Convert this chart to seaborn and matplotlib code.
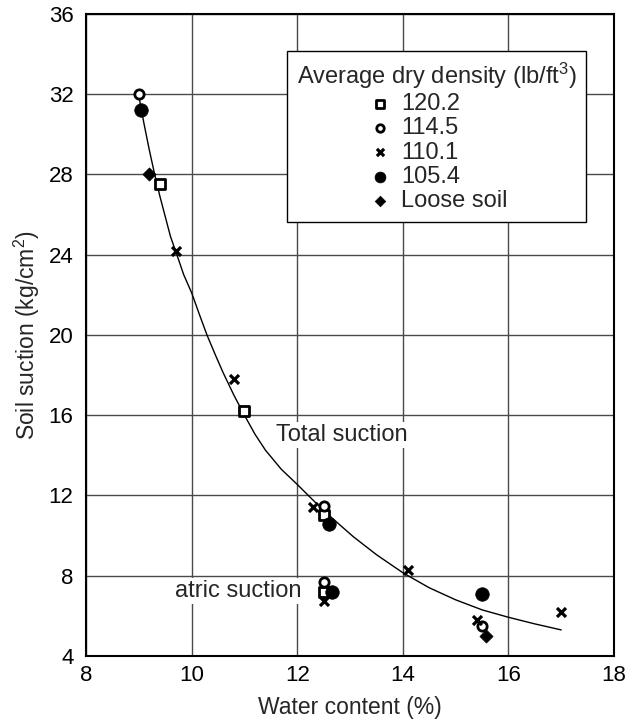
import matplotlib
matplotlib.use("Agg")
import matplotlib.pyplot as plt
import seaborn as sns

# ---- data ----
s120_x = [9.4, 11.0, 12.5, 12.5]
s120_y = [27.5, 16.2, 11.0, 7.2]

s114_x = [9.0, 12.5, 12.5, 15.5]
s114_y = [32.0, 11.45, 7.7, 5.5]

s110_x = [9.7, 10.8, 12.3, 14.1, 12.5, 15.4, 17.0]
s110_y = [24.2, 17.8, 11.4, 8.3, 6.75, 5.8, 6.2]

s105_x = [9.05, 12.6, 12.66, 15.5]
s105_y = [31.2, 10.6, 7.2, 7.1]

loose_x = [9.2, 15.57]
loose_y = [28.0, 5.0]

curve_x = [9.0, 9.1, 9.2, 9.3, 9.4, 9.5, 9.6, 9.72, 9.85, 10.0, 10.15, 10.29, 10.45, 10.6,
           10.8, 11.0, 11.2, 11.4, 11.7, 12.0, 12.21, 12.5, 12.8, 13.06, 13.5,
           14.0, 14.5, 15.0, 15.5, 16.0, 16.5, 17.0]
curve_y = [31.9, 30.5, 29.2, 28.0, 26.9, 25.9, 24.9, 24.0, 23.0, 22.1, 21.0, 20.0, 19.0, 18.1,
           17.0, 16.0, 15.05, 14.25, 13.3, 12.55, 12.0, 11.25, 10.55, 9.95, 9.05,
           8.15, 7.4, 6.8, 6.3, 5.93, 5.6, 5.3]

x_ticks = [8, 10, 12, 14, 16, 18]
y_ticks = [4, 8, 12, 16, 20, 24, 28, 32, 36]

sns.set_style("white")
plt.rcParams['font.family'] = ['Liberation Sans', 'DejaVu Sans']
plt.rcParams['mathtext.fontset'] = 'custom'
plt.rcParams['mathtext.rm'] = 'Liberation Sans'
plt.rcParams['mathtext.it'] = 'Liberation Sans'

fig = plt.figure(figsize=(6.38, 7.22), dpi=100)
ax = fig.add_axes([86/638, 1-656/722, 528/638, (656-13.7)/722])

sns.lineplot(x=curve_x, y=curve_y, color='black', lw=1.0, sort=False,
             estimator=None, ax=ax, zorder=3)

sns.scatterplot(x=s120_x, y=s120_y, marker='s', s=45, facecolor='white',
                edgecolor='black', linewidth=2.0, ax=ax, label='120.2', zorder=5)
sns.scatterplot(x=s114_x, y=s114_y, marker='o', s=45, facecolor='white',
                edgecolor='black', linewidth=2.0, ax=ax, label='114.5', zorder=5)
sns.scatterplot(x=s110_x, y=s110_y, marker='x', s=42, color='black',
                linewidth=2.3, ax=ax, label='110.1', zorder=5)
sns.scatterplot(x=s105_x, y=s105_y, marker='o', s=95, color='black',
                edgecolor='black', linewidth=0.5, ax=ax, label='105.4', zorder=5)
sns.scatterplot(x=loose_x, y=loose_y, marker='D', s=45, color='black',
                edgecolor='black', linewidth=0.5, ax=ax, label='Loose soil', zorder=5)

ax.set_xlim(8, 18)
ax.set_ylim(4, 36)
ax.set_xticks(x_ticks)
ax.set_yticks(y_ticks)
ax.set_xticklabels([str(t) for t in x_ticks])
ax.set_yticklabels([str(t) for t in y_ticks])
ax.tick_params(axis='both', length=0, labelsize=16, colors='black')
ax.tick_params(axis='x', pad=6.5)
ax.tick_params(axis='y', pad=9)
ax.grid(True, color='#4a4a4a', lw=1.0)
ax.set_axisbelow(True)
for sp in ax.spines.values():
    sp.set_color('black')
    sp.set_linewidth(1.5)

ax.set_xlabel('Water content (%)', fontsize=16.5, labelpad=7)
ax.set_ylabel('Soil suction (kg/cm$^2$)', fontsize=16.5, labelpad=4.5)

ax.text(11.6, 15.0, 'Total suction', fontsize=17, va='center', ha='left',
        bbox=dict(facecolor='white', edgecolor='none', pad=1.5), zorder=4)
ax.text(9.69, 7.25, 'atric suction', fontsize=17, va='center', ha='left',
        bbox=dict(facecolor='white', edgecolor='none', pad=1.5), zorder=4)

leg = ax.legend(title='Average dry density (lb/ft$^3$)', loc='upper right',
                bbox_to_anchor=(0.947, 0.942), borderaxespad=0.0,
                fontsize=17, title_fontsize=17,
                frameon=True, fancybox=False, edgecolor='black', framealpha=1,
                handletextpad=0.3, labelspacing=0.1, borderpad=0.4,
                handlelength=1.2, markerscale=0.8)
leg.get_frame().set_linewidth(1.0)
leg.set_zorder(6)

fig.savefig('out.png', dpi=100)
